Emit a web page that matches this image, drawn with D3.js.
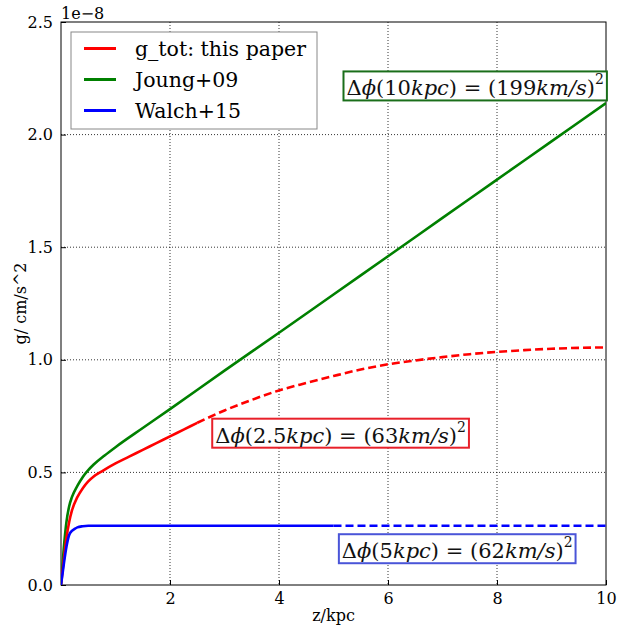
<!DOCTYPE html>
<html>
<head>
<meta charset="utf-8">
<script src="https://cdn.jsdelivr.net/npm/d3@7"></script>
<style>
  body { margin: 0; background: #fff; }
  text { font-family: 'DejaVu Serif', serif; }
</style>
</head>
<body>
<div id="chart"></div>
<script>
// values in units of 1e-8 cm/s^2, z in kpc
const zRed = [0, 0.05, 0.1, 0.15, 0.2, 0.3, 0.4, 0.5, 0.6, 0.75, 1.0, 1.25, 1.5, 1.75, 2.0, 2.25, 2.5,
  3, 3.5, 4, 4.5, 5, 5.5, 6, 6.5, 7, 7.5, 8, 8.5, 9, 9.5, 10]
const gRed = [0, 0.11, 0.21, 0.28, 0.33, 0.39, 0.43, 0.46, 0.482, 0.505, 0.54, 0.57, 0.60, 0.63, 0.66, 0.69, 0.72,
  0.775, 0.822, 0.864, 0.897, 0.928, 0.957, 0.98, 0.997, 1.012, 1.025, 1.035, 1.043, 1.049, 1.053, 1.055]
const redCut = 2.5

const zGreen = [0, 0.05, 0.1, 0.15, 0.2, 0.3, 0.4, 0.5, 0.6, 0.8, 1.0, 1.5, 2, 3, 4, 5, 6, 7, 8, 9, 10]
const gGreen = [0, 0.16, 0.28, 0.35, 0.39, 0.44, 0.48, 0.51, 0.535, 0.575, 0.612, 0.697, 0.781, 0.952, 1.12, 1.29, 1.46, 1.63, 1.8, 1.97, 2.14]

const zBlue = [0, 0.05, 0.1, 0.15, 0.2, 0.25, 0.3, 0.4, 0.5, 0.7, 1, 2, 3, 4, 5, 6, 7, 8, 9, 10]
const gBlue = [0, 0.09, 0.17, 0.222, 0.24, 0.249, 0.256, 0.261, 0.263, 0.263, 0.263, 0.263, 0.263, 0.263, 0.263, 0.263, 0.263, 0.263, 0.263, 0.263]
const blueCut = 5

const seriesNames = ['g_tot: this paper', 'Joung+09', 'Walch+15']
const seriesColors = ['#ff0000', '#008000', '#0000ff']

const xTicks = [2, 4, 6, 8, 10]
const yTicks = [0.0, 0.5, 1.0, 1.5, 2.0, 2.5]

// annotation: [z, g, kpc label, km/s label, colour]
const notes = [
  [7.6, 2.205, '10', '199', '#1a6e1a'],
  [5.13, 0.663, '2.5', '63', '#e8202a'],
  [7.27, 0.15, '5', '62', '#4a55d8']
]

const margin = { top: 22, left: 61, right: 14, bottom: 41 }
const width = 620 - margin.left - margin.right
const height = 626 - margin.top - margin.bottom

const svg = d3.select('#chart')
  .append('svg')
  .attr('width', 620)
  .attr('height', 626)

const g = svg.append('g')
  .attr('transform', 'translate(' + margin.left + ',' + margin.top + ')')

const x = d3.scaleLinear().domain([0, 10]).range([0, width])
const y = d3.scaleLinear().domain([0, 2.5]).range([height, 0])

// grid
g.selectAll('.xgrid')
  .data(xTicks.filter(d => d < 10))
  .enter()
  .append('line')
  .attr('x1', d => x(d)).attr('x2', d => x(d))
  .attr('y1', 0).attr('y2', height)
  .attr('stroke', '#000').attr('stroke-width', 0.8)
  .attr('stroke-dasharray', '1,2')

g.selectAll('.ygrid')
  .data(yTicks.filter(d => d > 0 && d < 2.5))
  .enter()
  .append('line')
  .attr('x1', 0).attr('x2', width)
  .attr('y1', d => y(d)).attr('y2', d => y(d))
  .attr('stroke', '#000').attr('stroke-width', 0.8)
  .attr('stroke-dasharray', '1,2')

// axes
const xAxis = d3.axisBottom(x).tickValues(xTicks).tickFormat(d3.format('d')).tickSize(-5).tickPadding(8)
g.append('g')
  .attr('class', 'axis x-axis')
  .attr('transform', 'translate(0,' + height + ')')
  .call(xAxis)

const yAxis = d3.axisLeft(y).tickValues(yTicks).tickFormat(d3.format('.1f')).tickSize(-5).tickPadding(8)
g.append('g')
  .attr('class', 'axis y-axis')
  .call(yAxis)

g.selectAll('.axis .domain').remove()
g.selectAll('.axis text')
  .attr('font-family', 'DejaVu Serif')
  .attr('font-size', 16)
  .attr('fill', '#000')
g.selectAll('.axis line').attr('stroke', '#000')

// frame
g.append('rect')
  .attr('width', width).attr('height', height)
  .attr('fill', 'none').attr('stroke', '#000').attr('stroke-width', 1)

// curves
const line = d3.line()
  .x(d => x(d[0]))
  .y(d => y(d[1]))
  .curve(d3.curveMonotoneX)

function pts(zs, gs, test) {
  return zs.map((z, i) => [z, gs[i]]).filter(d => test(d[0]))
}

const clip = g.append('clipPath').attr('id', 'clip')
clip.append('rect').attr('width', width).attr('height', height)
const plot = g.append('g').attr('clip-path', 'url(#clip)')

const paths = [
  [pts(zGreen, gGreen, z => true), seriesColors[1], null],
  [pts(zRed, gRed, z => z <= redCut), seriesColors[0], null],
  [pts(zRed, gRed, z => z >= redCut), seriesColors[0], '8,4'],
  [pts(zBlue, gBlue, z => z <= blueCut), seriesColors[2], null],
  [pts(zBlue, gBlue, z => z >= blueCut), seriesColors[2], '8,4']
]

plot.selectAll('.curve')
  .data(paths)
  .enter()
  .append('path')
  .attr('class', 'curve')
  .attr('d', d => line(d[0]))
  .attr('fill', 'none')
  .attr('stroke', d => d[1])
  .attr('stroke-width', 2.6)
  .attr('stroke-dasharray', d => d[2])

// annotations
notes.forEach(n => {
  const a = g.append('g')
  const t = a.append('text')
    .attr('x', x(n[0]))
    .attr('y', y(n[1]))
    .attr('text-anchor', 'middle')
    .attr('dominant-baseline', 'central')
    .attr('font-size', 21)
    .attr('fill', '#111')
  t.append('tspan').text('Δ')
  t.append('tspan').attr('font-style', 'italic').text('ϕ')
  t.append('tspan').text('(' + n[2])
  t.append('tspan').attr('font-style', 'italic').text('kpc')
  t.append('tspan').text(') = (' + n[3])
  t.append('tspan').attr('font-style', 'italic').text('km/s')
  t.append('tspan').text(')')
  t.append('tspan').attr('font-size', 14).attr('dy', -9).text('2')
  const bb = t.node().getBBox()
  a.insert('rect', 'text')
    .attr('x', bb.x - 3).attr('y', bb.y)
    .attr('width', bb.width + 6).attr('height', bb.height)
    .attr('fill', '#fff')
    .attr('stroke', n[4]).attr('stroke-width', 2)
})

// legend
const legend = g.append('g').attr('transform', 'translate(10,10)')
legend.append('rect')
  .attr('width', 246).attr('height', 97)
  .attr('fill', '#fff').attr('stroke', '#888').attr('stroke-width', 1)

legend.selectAll('.legend-entry')
  .data(seriesNames)
  .enter()
  .append('g')
  .attr('class', 'legend-entry')
  .attr('transform', (d, i) => `translate(0,${16.5 + i * 31})`)
  .each(function(d, i) {
    const e = d3.select(this)
    e.append('line')
      .attr('x1', 13).attr('x2', 45)
      .attr('stroke', seriesColors[i]).attr('stroke-width', 3)
    e.append('text')
      .text(d)
      .attr('x', 64)
      .attr('dominant-baseline', 'central')
      .attr('font-size', 20.5)
      .attr('fill', '#000')
  })

// labels
svg.append('text')
  .text('1e−8')
  .attr('x', margin.left)
  .attr('y', 19)
  .attr('font-size', 16)

svg.append('text')
  .text('z/kpc')
  .attr('x', margin.left + width / 2)
  .attr('y', 621)
  .attr('text-anchor', 'middle')
  .attr('font-size', 16)

svg.append('text')
  .text('g/ cm/s^2')
  .attr('transform', 'translate(26,' + (margin.top + height / 2) + ') rotate(-90)')
  .attr('text-anchor', 'middle')
  .attr('font-size', 16)
</script>
</body>
</html>
